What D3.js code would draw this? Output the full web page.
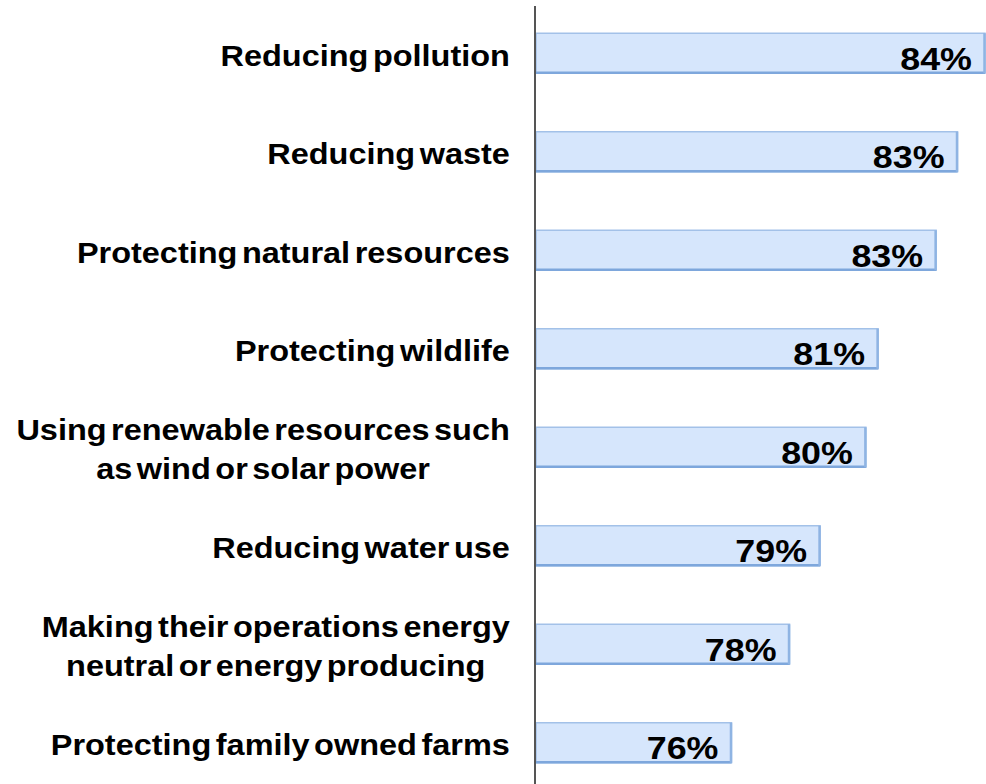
<!DOCTYPE html>
<html>
<head>
<meta charset="utf-8">
<script src="https://cdn.jsdelivr.net/npm/d3@7"></script>
<style>
  html, body { margin: 0; padding: 0; background: #fff; }
  svg { display: block; }
</style>
</head>
<body>
<svg id="chart" width="986" height="784"></svg>
<script>
// Data
const categories = [
  ["Reducing pollution"],
  ["Reducing waste"],
  ["Protecting natural resources"],
  ["Protecting wildlife"],
  ["Using renewable resources such", "as wind or solar power"],
  ["Reducing water use"],
  ["Making their operations energy", "neutral or energy producing"],
  ["Protecting family owned farms"]
];
const values = [84.3, 83.4, 82.7, 80.8, 80.4, 78.9, 77.9, 76.0];
const valueLabels = ["84%", "83%", "83%", "81%", "80%", "79%", "78%", "76%"];

const svg = d3.select("#chart");
const W = 986, H = 784;
const axisX = 536;
const stretch = 1.12;

const y = d3.scaleBand()
  .domain(d3.range(categories.length))
  .range([4, 792])
  .paddingInner(0.594)
  .paddingOuter(0.297);

const x = d3.scaleLinear()
  .domain([69.6, 84.3])
  .range([axisX, 985]);

const font = "'Liberation Sans', Arial, sans-serif";

const g = svg.append("g");

const bars = g.selectAll("g.bar")
  .data(values)
  .join("g")
  .attr("class", "bar");

bars.append("rect")
  .attr("x", axisX)
  .attr("y", (d, i) => y(i))
  .attr("width", d => x(d) - axisX)
  .attr("height", y.bandwidth())
  .attr("fill", "#d6e6fc")
  .attr("stroke", "#a3c1e8")
  .attr("stroke-width", 1.5);

// bottom shadow edge
bars.append("line")
  .attr("x1", axisX)
  .attr("x2", d => x(d))
  .attr("y1", (d, i) => y(i) + y.bandwidth() - 0.5)
  .attr("y2", (d, i) => y(i) + y.bandwidth() - 0.5)
  .attr("stroke", "#7ea7dc")
  .attr("stroke-width", 2.5);

// right shadow edge
bars.append("line")
  .attr("x1", d => x(d) - 0.5)
  .attr("x2", d => x(d) - 0.5)
  .attr("y1", (d, i) => y(i))
  .attr("y2", (d, i) => y(i) + y.bandwidth())
  .attr("stroke", "#8fb4e3")
  .attr("stroke-width", 2.5);

// value labels (horizontally stretched like the reference)
bars.append("text")
  .attr("transform", (d, i) => `translate(${x(d) - 13},${y(i) + y.bandwidth() / 2}) scale(${stretch},1)`)
  .attr("dy", "0.52em")
  .attr("text-anchor", "end")
  .attr("font-family", font)
  .attr("font-weight", "bold")
  .attr("font-size", 32)
  .attr("fill", "#000")
  .text((d, i) => valueLabels[i]);

// category labels
const lineH = 39;
const labelRight = 510;
const labels = g.selectAll("text.cat")
  .data(categories)
  .join("text")
  .attr("class", "cat")
  .attr("text-anchor", "middle")
  .attr("font-family", font)
  .attr("font-weight", "bold")
  .attr("font-size", 29)
  .attr("word-spacing", "-4")
  .attr("fill", "#000");

labels.each(function(lines, i) {
  const t = d3.select(this);
  const cy = y(i) + y.bandwidth() / 2;
  const n = lines.length;
  lines.forEach((ln, k) => {
    t.append("tspan")
      .attr("x", 0)
      .attr("y", cy + (k - (n - 1) / 2) * lineH)
      .attr("dy", "0.43em")
      .text(ln);
  });
});

// right-align each label block at labelRight, lines centered within the block
labels.each(function() {
  const bb = this.getBBox();
  const right = (bb.x + bb.width) * stretch;
  d3.select(this).attr("transform", `translate(${labelRight - right},0) scale(${stretch},1)`);
});

// vertical axis line
g.append("line")
  .attr("x1", axisX - 1)
  .attr("x2", axisX - 1)
  .attr("y1", 6)
  .attr("y2", H)
  .attr("stroke", "#555")
  .attr("stroke-width", 2);
</script>
</body>
</html>
